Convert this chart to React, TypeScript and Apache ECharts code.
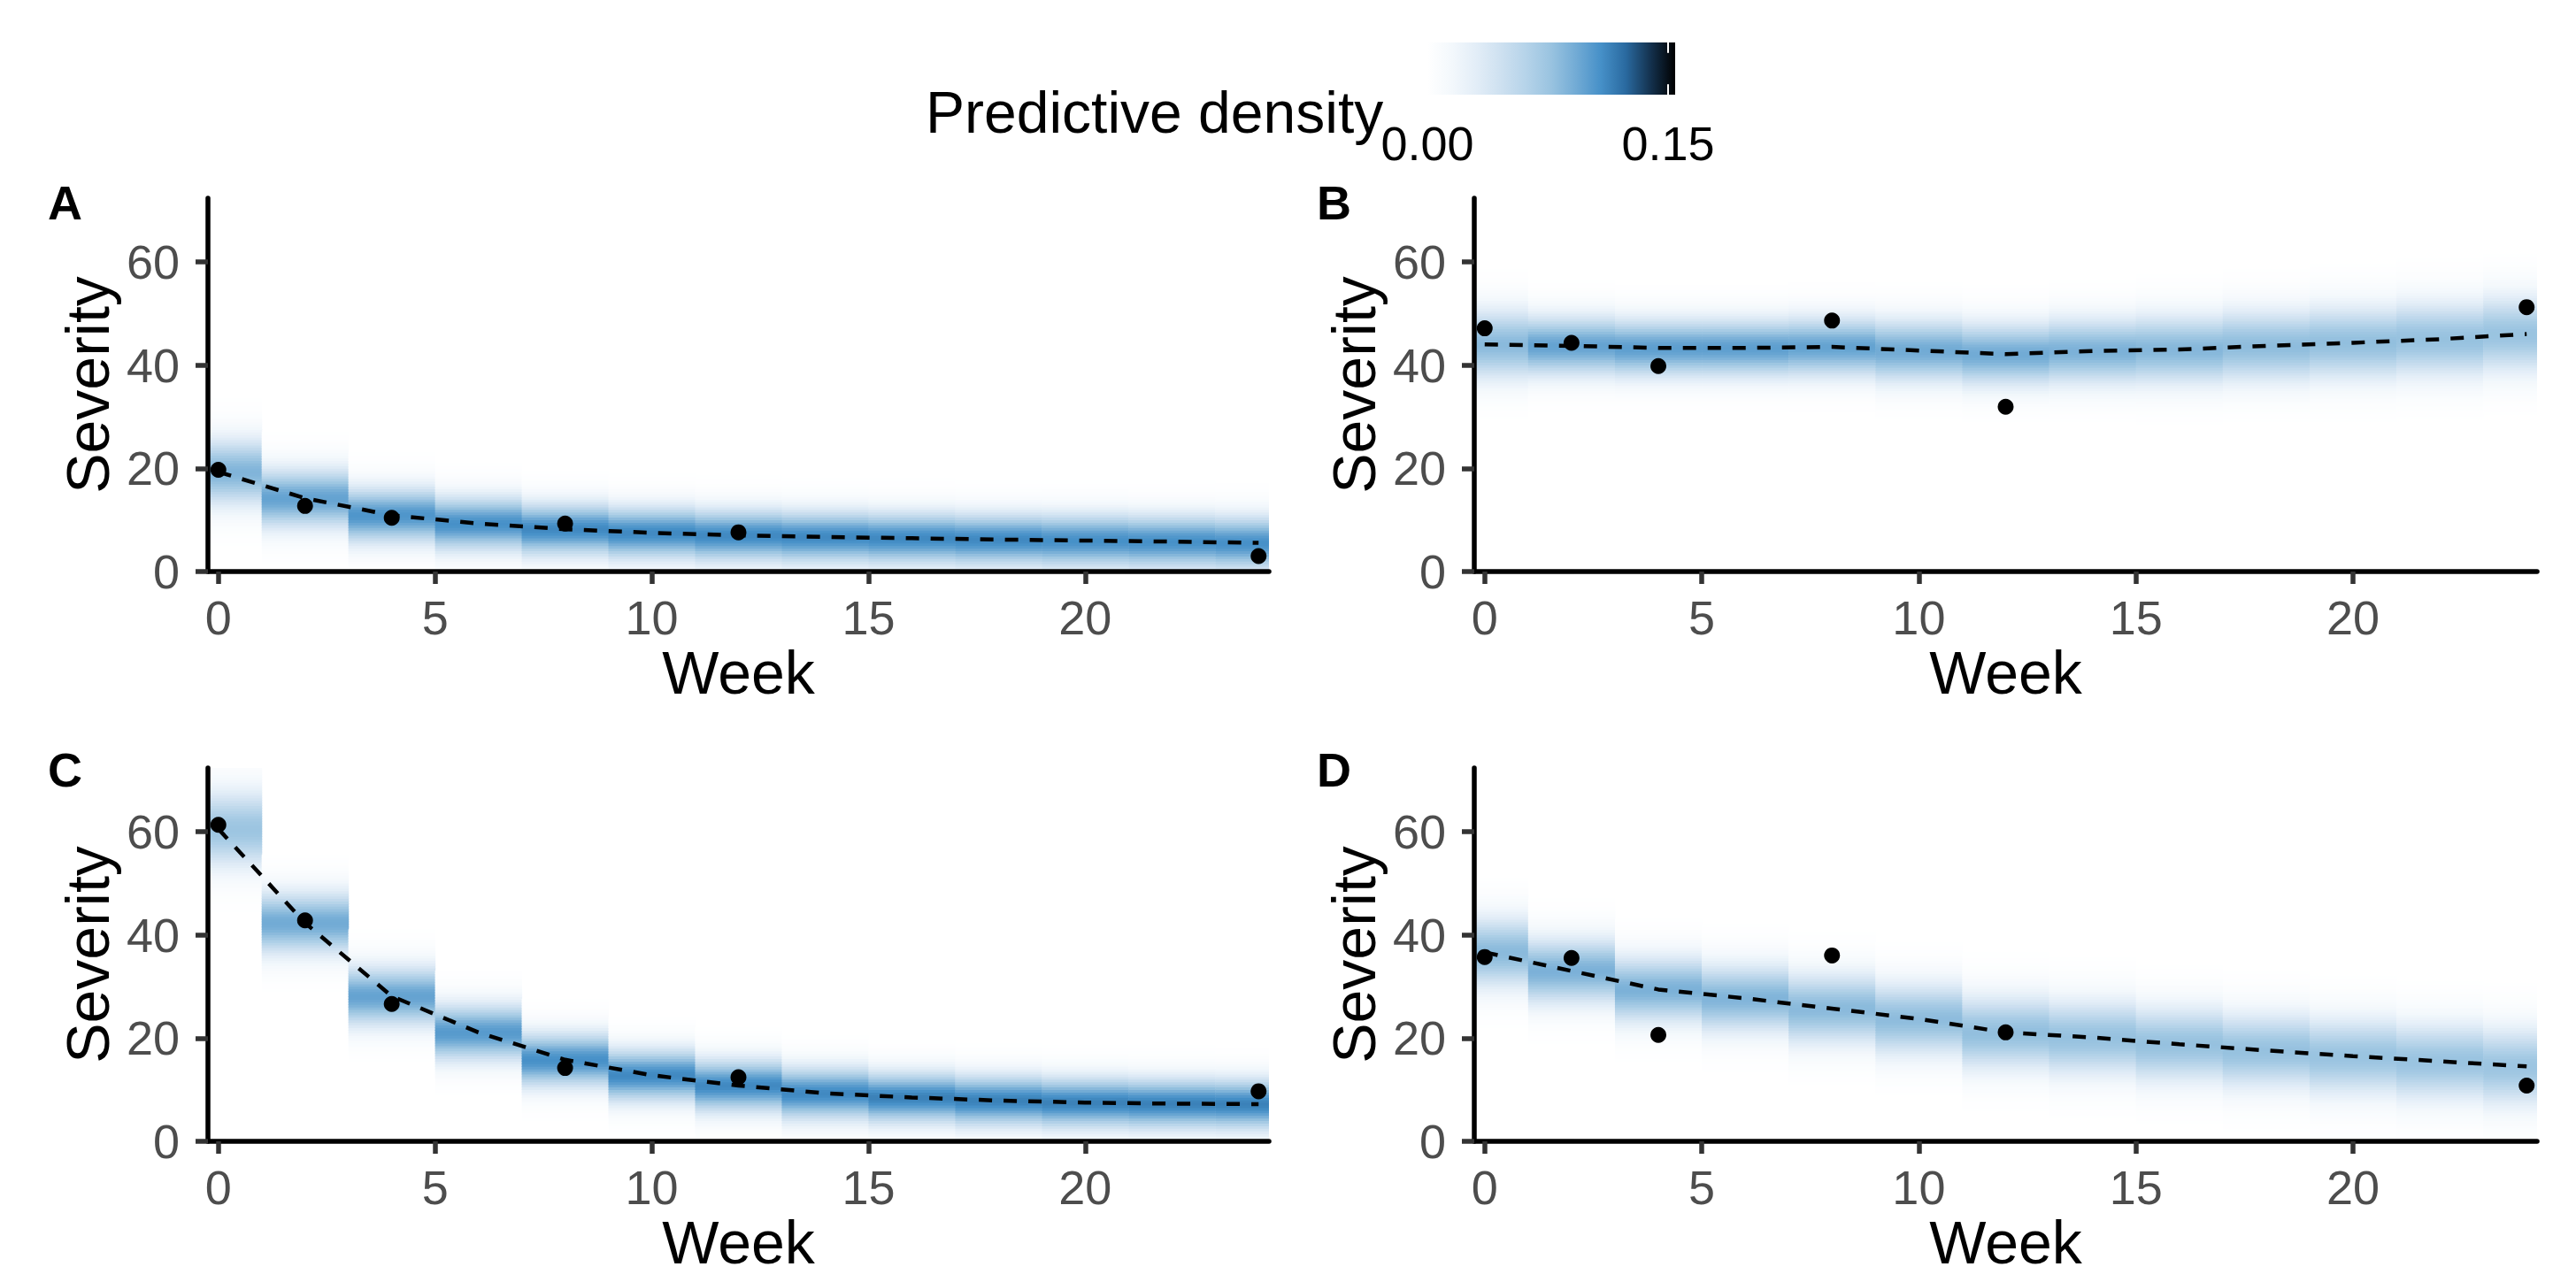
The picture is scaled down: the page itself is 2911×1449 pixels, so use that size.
import React, { useEffect, useRef } from "react";
import * as echarts from "echarts";

// ---------- data ----------
const weeks = [0, 2, 4, 6, 8, 10, 12, 14, 16, 18, 20, 22, 24];
const obsWeeks = [0, 2, 4, 8, 12, 24];
const panelLabels = ["A", "B", "C", "D"];

// observed severity (points)
const obsA = [19.7, 12.7, 10.4, 9.3, 7.6, 3.0];
const obsB = [47.1, 44.3, 39.8, 48.6, 31.9, 51.2];
const obsC = [61.3, 42.8, 26.6, 14.2, 12.4, 9.7];
const obsD = [35.7, 35.5, 20.6, 36.0, 21.1, 10.8];

// predictive mean (dashed line), per week in `weeks`
const fitA = [19.3, 14.2, 10.9, 9.3, 8.2, 7.5, 7.0, 6.7, 6.45, 6.2, 6.0, 5.8, 5.55];
const fitB = [44.0, 43.7, 43.3, 43.3, 43.5, 42.8, 42.1, 42.7, 43.0, 43.7, 44.3, 45.0, 46.0];
const fitC = [60.5, 42.3, 28.1, 21.1, 15.8, 12.8, 10.8, 9.3, 8.5, 7.9, 7.5, 7.3, 7.2];
const fitD = [36.6, 33.0, 29.4, 27.7, 25.7, 23.7, 21.1, 20.1, 18.8, 17.6, 16.5, 15.5, 14.5];

const sdA = [4.6, 4.1, 3.8, 3.7, 3.6, 3.6, 3.6, 3.6, 3.6, 3.6, 3.7, 3.7, 3.7];
const sdB = [4.8, 4.1, 4.0, 4.0, 4.1, 4.3, 4.3, 4.5, 4.7, 4.9, 5.0, 5.1, 5.2];
const sdC = [5.3, 4.3, 4.1, 3.9, 3.7, 3.6, 3.6, 3.6, 3.5, 3.5, 3.5, 3.5, 3.5];
const sdD = [4.8, 4.5, 4.5, 4.6, 4.8, 4.9, 5.0, 5.1, 5.1, 5.1, 5.2, 5.2, 5.3];

const xTicks = [0, 5, 10, 15, 20];
const yTicks = [0, 20, 40, 60];
const densityTicks = [0.0, 0.15];
const densityMax = 0.1544;
const palette = [
  "#ffffff", "#f3f8fc", "#e2edf7", "#cde0f0", "#b5d3e9", "#99c3e0",
  "#72abd5", "#4690c8", "#2a6aa0", "#14324f", "#000000",
];

const FONT = "Liberation Sans, Arial, Helvetica, sans-serif";

function buildCells(fit: number[], sd: number[]) {
  const cells: number[][] = [];
  const step = 0.5;
  for (let i = 0; i < weeks.length; i++) {
    for (let y = 0; y < 72.5; y += step) {
      const c = y + step / 2;
      const z = (c - fit[i]) / sd[i];
      const d = Math.exp(-0.5 * z * z) / (sd[i] * Math.sqrt(2 * Math.PI));
      if (d < 0.0008) continue;
      cells.push([weeks[i], y, y + step, d]);
    }
  }
  return cells;
}

export default function App() {
  const ref = useRef<HTMLDivElement>(null);
  useEffect(() => {
    document.body.style.margin = "0";
    if (!ref.current) return;
    const chart = echarts.init(ref.current, null, { renderer: "svg" });

    const obs = [obsA, obsB, obsC, obsD];
    const fits = [fitA, fitB, fitC, fitD];
    const sds = [sdA, sdB, sdC, sdD];

    const grids = [
      { left: 235, top: 224, width: 1199, height: 422 },
      { left: 1666, top: 224, width: 1201, height: 422 },
      { left: 235, top: 868, width: 1199, height: 422 },
      { left: 1666, top: 868, width: 1201, height: 422 },
    ];

    const fmt = (v: number) => {
      const r = Math.round(v);
      return Math.abs(v - r) < 1e-6 ? String(r) : "";
    };

    const xAxes = grids.map((_, gi) => ({
      type: "value",
      gridIndex: gi,
      min: -0.24,
      max: 24.24,
      z: 10,
      name: "Week",
      nameLocation: "middle",
      nameGap: 80,
      nameTextStyle: { fontSize: 68, color: "#000", fontFamily: FONT },
      axisLine: { show: true, onZero: false, lineStyle: { color: "#000", width: 5.5 } },
      axisTick: { show: true, length: 14, customValues: xTicks, lineStyle: { color: "#333", width: 5.5 } },
      axisLabel: { fontSize: 54, color: "#4D4D4D", margin: 25, customValues: xTicks, fontFamily: FONT, formatter: fmt },
      splitLine: { show: false },
    }));
    const yAxes = grids.map((_, gi) => ({
      type: "value",
      gridIndex: gi,
      min: 0,
      max: 72.3,
      z: 10,
      name: "Severity",
      nameLocation: "middle",
      nameRotate: 90,
      nameGap: 102,
      nameTextStyle: { fontSize: 68, color: "#000", fontFamily: FONT },
      axisLine: { show: true, onZero: false, lineStyle: { color: "#000", width: 5.5 } },
      axisTick: { show: true, length: 14, customValues: yTicks, lineStyle: { color: "#333", width: 5.5 } },
      axisLabel: { fontSize: 54, color: "#4D4D4D", margin: 32, customValues: yTicks, fontFamily: FONT, formatter: fmt },
      splitLine: { show: false },
    }));

    const renderItem = (params: any, api: any) => {
      const w = api.value(0);
      const y0 = api.value(1);
      const y1 = api.value(2);
      const p1 = api.coord([w - 1, y1]);
      const p2 = api.coord([w + 1, y0]);
      const cs = params.coordSys;
      const shape = echarts.graphic.clipRectByRect(
        { x: p1[0], y: p1[1] - 0.4, width: p2[0] - p1[0] + 0.5, height: p2[1] - p1[1] + 0.8 },
        { x: cs.x, y: cs.y, width: cs.width, height: cs.height }
      );
      if (!shape) return null;
      return { type: "rect", shape, style: { fill: api.visual("color") } };
    };

    const series: any[] = [];
    for (let gi = 0; gi < 4; gi++) {
      series.push({
        type: "custom",
        xAxisIndex: gi,
        yAxisIndex: gi,
        renderItem,
        encode: { x: 0, y: 1 },
        data: buildCells(fits[gi], sds[gi]),
        z: 1,
        silent: true,
      });
    }
    for (let gi = 0; gi < 4; gi++) {
      series.push({
        type: "line",
        xAxisIndex: gi,
        yAxisIndex: gi,
        data: weeks.map((w, i) => [w, fits[gi][i]]),
        showSymbol: false,
        symbol: "none",
        lineStyle: { color: "#000", width: 4.5, type: [15, 13] },
        z: 3,
        silent: true,
      });
      series.push({
        type: "scatter",
        xAxisIndex: gi,
        yAxisIndex: gi,
        data: obsWeeks.map((w, i) => [w, obs[gi][i]]),
        symbolSize: 18,
        itemStyle: { color: "#000", opacity: 1 },
        z: 4,
        clip: false,
        silent: true,
      });
    }

    // legend colourbar
    const barLeft = 1613, barTop = 48, barW = 280, barH = 59;
    const graphics: any[] = [];
    graphics.push({
      type: "rect",
      shape: { x: barLeft, y: barTop, width: barW, height: barH },
      style: {
        fill: {
          type: "linear", x: 0, y: 0, x2: 1, y2: 0,
          colorStops: palette.map((c, i) => ({ offset: i / (palette.length - 1), color: c })),
        },
      },
    });
    densityTicks.forEach((v) => {
      const x = barLeft + (v / densityMax) * barW;
      graphics.push({ type: "line", shape: { x1: x, y1: barTop, x2: x, y2: barTop + barH / 5 }, style: { stroke: "#fff", lineWidth: 2 } });
      graphics.push({ type: "line", shape: { x1: x, y1: barTop + barH * 4 / 5, x2: x, y2: barTop + barH }, style: { stroke: "#fff", lineWidth: 2 } });
      graphics.push({
        type: "text", x, y: 162,
        style: { text: v.toFixed(2), fontSize: 54, fontFamily: FONT, fill: "#000", align: "center", verticalAlign: "middle" },
      });
    });
    graphics.push({
      type: "text", x: 1046, y: 127,
      style: { text: "Predictive density", fontSize: 66, fontFamily: FONT, fill: "#000", align: "left", verticalAlign: "middle" },
    });
    const tagPos = [[54, 229], [1488, 229], [54, 870], [1488, 870]];
    panelLabels.forEach((t, i) => {
      graphics.push({
        type: "text", x: tagPos[i][0], y: tagPos[i][1],
        style: {
          text: t, fontSize: 54, fontWeight: "bold", fontFamily: FONT, fill: "#000", align: "left", verticalAlign: "middle",
        },
      });
    });

    chart.setOption({
      animation: false,
      backgroundColor: "#ffffff",
      textStyle: { fontFamily: FONT },
      grid: grids,
      xAxis: xAxes,
      yAxis: yAxes,
      visualMap: {
        type: "continuous",
        show: false,
        min: 0,
        max: densityMax,
        dimension: 3,
        seriesIndex: [0, 1, 2, 3],
        inRange: { color: palette },
      },
      graphic: graphics,
      series,
    });
    return () => chart.dispose();
  }, []);
  return <div ref={ref} style={{ width: 2911, height: 1449 }} />;
}
